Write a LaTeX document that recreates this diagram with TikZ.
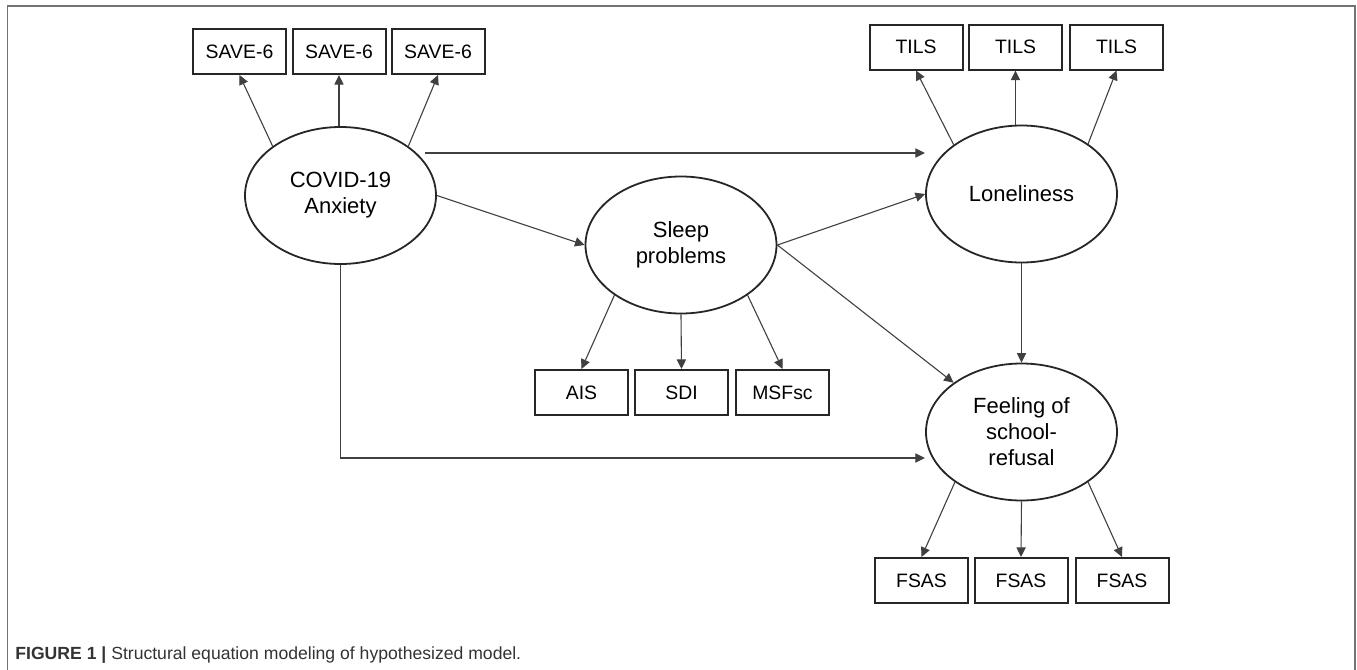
\documentclass[tikz,border=0pt]{standalone}
\usepackage{fontspec}
\setmainfont{Liberation Sans}
\usetikzlibrary{arrows.meta, shapes.geometric}
\tikzset{latent/.style={draw=black!85, line width=0.9pt, ellipse, inner sep=0pt, minimum width=95.5pt, minimum height=68.5pt, align=center, font=\fontsize{11}{13}\selectfont},
  obs/.style={draw=black!85, line width=1pt, rectangle, inner sep=0pt, minimum width=46.5pt, minimum height=22.5pt, font=\fontsize{9.7}{11}\selectfont},
  arr/.style={draw=black!75, line width=0.55pt, -{Triangle[length=4.8pt,width=4.6pt]}},
  frame/.style={draw=black!55, line width=0.65pt}}

\begin{document}
\begin{tikzpicture}[x=0.5pt, y=-0.5pt]
\useasboundingbox (0,0) rectangle (1357,670);
\draw[frame] (7.3,670) -- (7.3,6) -- (1355,6) -- (1355,670);
%% latent variables
	\node[latent] (cov) at (340.5,195.5) {COVID-19\\Anxiety};
	\node[latent] (sleep) at (681,245) {Sleep\\problems};
	\node[latent] (lone) at (1021.5,194) {Loneliness};
	\node[latent] (refuse) at (1021.5,432) {Feeling of\\school-\\refusal};
%% indicators of anxiety
	\node[obs] (s1) at (239.5,51.5) {SAVE-6};
	\node[obs] (s2) at (339,51.5) {SAVE-6};
	\node[obs] (s3) at (438,51.5) {SAVE-6};
  \draw[arr] (cov.144) -- (s1.south);
  \draw[arr] (s2.south |- cov.north) -- (s2.south);
  \draw[arr] (cov.36) -- (s3.south);
%% indicators of loneliness
	\node[obs] (t1) at (916,47) {TILS};
	\node[obs] (t2) at (1015.5,47) {TILS};
	\node[obs] (t3) at (1116.5,47) {TILS};
  \draw[arr] (lone.144) -- (t1.south);
  \draw[arr] (t2.south |- lone.north) -- (t2.south);
  \draw[arr] (lone.37) -- (t3.south);
%% indicators of sleep
	\node[obs] (ais) at (581.5,392.5) {AIS};
	\node[obs] (sdi) at (681.5,392.5) {SDI};
	\node[obs] (msf) at (782.5,392.5) {MSFsc};
  \draw[arr] (sleep.217) -- (ais.north);
  \draw[arr] (sleep.south) -- (sdi.north);
  \draw[arr] (sleep.323) -- (msf.north);
%% indicators of school refusal
	\node[obs] (f1) at (921.5,580.5) {FSAS};
	\node[obs] (f2) at (1021,580.5) {FSAS};
	\node[obs] (f3) at (1122,580.5) {FSAS};
  \draw[arr] (refuse.217) -- (f1.north);
  \draw[arr] (refuse.south) -- (f2.north);
  \draw[arr] (refuse.323) -- (f3.north);
%% structural paths
	\coordinate (h1) at (425,153);
	\coordinate (h2) at (925,153);
	\coordinate (h3) at (925,458);
  \draw[arr] (h1) -- (h2);
  \draw[arr] (cov.east) -- (sleep.west);
  \draw[arr] (sleep.east) -- (lone.west);
  \draw[arr] (sleep.east) -- (refuse.144);
  \draw[arr] (lone.south) -- (refuse.north);
  \draw[arr] (cov.south) |- (h3);
%% caption
	\node[anchor=base west, inner sep=0pt, text=black!80, font=\fontsize{8.8}{10}\selectfont] (cap) at (15,659) {\textbf{FIGURE 1 |} Structural equation modeling of hypothesized model.};
\end{tikzpicture}
\end{document}
